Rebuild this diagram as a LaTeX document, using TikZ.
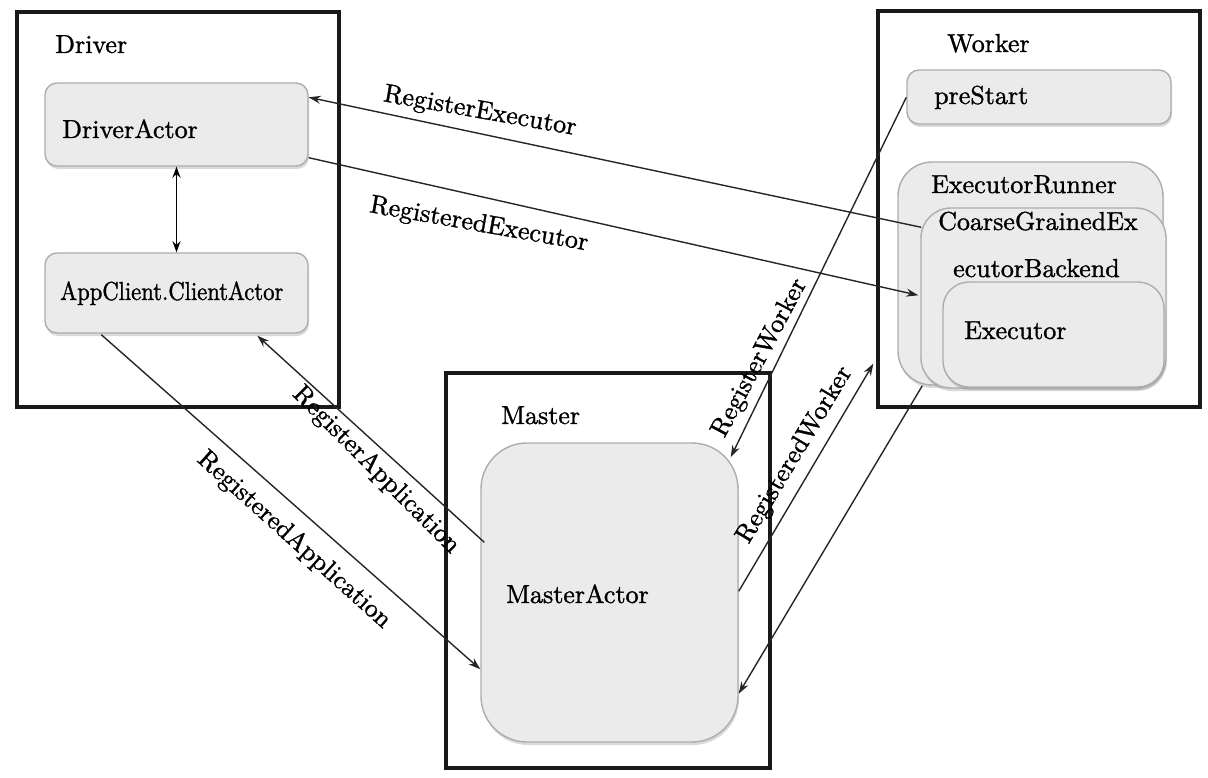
\documentclass[tikz,border=0pt]{standalone}
\usepackage{fontspec}
\setmainfont{lmroman10-regular.otf}[FakeBold=1.2]
\usepackage{graphicx}
\usetikzlibrary{arrows.meta,shadows,calc}
\newcommand\bigtxt{\fontsize{26}{30}\selectfont}
\tikzset{
  outer/.style={draw=black!90, line width=3.2pt, inner sep=0pt},
  gbox/.style={draw=black!32, line width=1.4pt, fill=black!8, rounded corners=#1,
    inner sep=0pt, drop shadow={shadow xshift=1pt, shadow yshift=-3pt, opacity=0.3}},
  gbox/.default=12pt,
  sz/.style 2 args={minimum width=#1, minimum height=#2},
  txt/.style={anchor=base west, inner sep=0pt, font=\bigtxt},
  lbl/.style={inner sep=0pt, font=\bigtxt},
  msg/.style={line width=1.4pt, draw=black!85, -{Stealth[length=12pt,width=8pt]}},
}
\begin{document}
\begin{tikzpicture}[x=1pt,y=-1pt]
\useasboundingbox (0,0) rectangle (1208,778);
% outer containers
\node[outer, sz={322pt}{395pt}] (drv) at (178,209.5) {};
\node[outer, sz={322pt}{396pt}] (wk) at (1039,209) {};
\node[outer, sz={324pt}{395pt}] (mst) at (608,570.5) {};
% inner boxes
\node[gbox, sz={263pt}{83pt}] (da) at (176.5,124.5) {};
\node[gbox, sz={263pt}{80pt}] (ac) at (176.5,293) {};
\node[gbox, sz={264pt}{54pt}] (ps) at (1039,97) {};
\node[gbox=34pt, sz={265pt}{223pt}] (er) at (1030.5,273.5) {};
\node[gbox=30pt, sz={245pt}{180pt}] (cg) at (1043.5,298) {};
\node[gbox=26pt, sz={221pt}{105pt}] (ex) at (1053.5,334.5) {};
\node[gbox=46pt, sz={257pt}{299pt}] (ma) at (609.5,592.5) {};
% texts
\node[txt] (t-drv) at (55,53) {Driver};
\node[txt] (t-da) at (62,138) {DriverActor};
\node[txt] (t-ac) at (60,300) {\scalebox{0.87}[1]{AppClient.ClientActor}};
\node[txt] (t-wk) at (947,52) {Worker};
\node[txt] (t-ps) at (934,104) {preStart};
\node[txt] (t-er) at (931,193) {ExecutorRunner};
\node[txt] (t-cg1) at (938,230) {CoarseGrainedEx};
\node[txt] (t-cg2) at (953,277) {ecutorBackend};
\node[txt] (t-ex) at (964,339) {Executor};
\node[txt] (t-mst) at (501,424) {Master};
\node[txt] (t-ma) at (506,603) {MasterActor};
% connectors
\draw[line width=1.6pt, {Stealth[length=11pt,width=8pt]}-{Stealth[length=11pt,width=8pt]}] (da.south) -- (ac.north);
\draw[msg] ($(cg.north west)+(1,20)$) -- ($(da.north east)+(0,15)$);
\draw[msg] ($(da.south east)+(0,-9)$) -- ($(cg.north west)+(-2,88)$);
\draw[msg] ($(ps.north west)+(0,28)$) -- ($(ma.north east)+(-8,15)$);
\draw[msg] ($(ma.north east)+(0,149)$) -- ($(wk.south west)+(-3,-45)$);
\draw[msg] ($(er.south west)+(25,0)$) -- ($(ma.south east)+(0,-49)$);
\draw[msg] ($(ma.north west)+(4,100)$) -- ($(ac.south west)+(213,2)$);
\draw[msg] ($(ac.south west)+(57,1)$) -- ($(ma.north west)+(0,227)$);
% labels
\node[lbl, rotate=-10] (l-rex) at (480,112) {RegisterExecutor};
\node[lbl, rotate=-10] (l-rdex) at (479,225) {RegisteredExecutor};
\node[lbl, rotate=62] (l-rw) at (760,358) {RegisterWorker};
\node[lbl, rotate=59] (l-rdw) at (795,455) {RegisteredWorker};
\node[lbl, rotate=-45] (l-ra) at (376,470) {RegisterApplication};
\node[lbl, rotate=-42] (l-rda) at (294,540) {RegisteredApplication};
\end{tikzpicture}
\end{document}
